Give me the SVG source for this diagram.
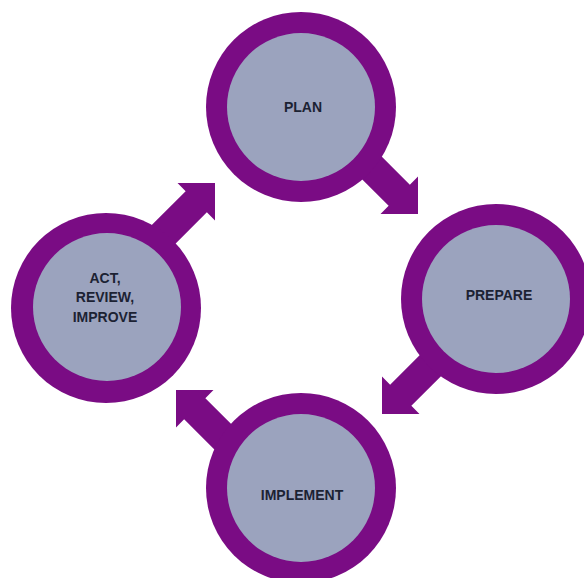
<svg xmlns="http://www.w3.org/2000/svg" xmlns:xlink="http://www.w3.org/1999/xlink" width="584" height="578" viewBox="0 0 584 578">
<style>
.ring{fill:#7a0c84}
.core{fill:#9ba3be}
.arrow{fill:#7a0c84}
.lbl{font-family:"Liberation Sans",Arial,sans-serif;font-weight:bold;font-size:14px;fill:#1c2233;text-anchor:middle}
</style>
<defs>
<polygon id="arr" points="-100,-15 -26.5,-15 -26.5,-26.5 0,0 -26.5,26.5 -26.5,15 -100,15"/>
</defs>
<rect width="584" height="578" fill="#ffffff"/>
<g id="connectors" class="arrow">
<use xlink:href="#arr" href="#arr" transform="translate(418,214) rotate(45)"/>
<use xlink:href="#arr" href="#arr" transform="translate(382,414) rotate(135)"/>
<use xlink:href="#arr" href="#arr" transform="translate(176,390) rotate(225)"/>
<use xlink:href="#arr" href="#arr" transform="translate(215,183) rotate(-45)"/>
</g>
<g id="plan">
<circle class="ring" cx="301" cy="107" r="95"/>
<circle class="core" cx="301" cy="107" r="74"/>
<text class="lbl" x="303" y="112">PLAN</text>
</g>
<g id="prepare">
<circle class="ring" cx="496" cy="299" r="95"/>
<circle class="core" cx="496" cy="299" r="74"/>
<text class="lbl" x="499" y="300">PREPARE</text>
</g>
<g id="implement">
<circle class="ring" cx="301" cy="488" r="95"/>
<circle class="core" cx="301" cy="488" r="74"/>
<text class="lbl" x="302" y="500">IMPLEMENT</text>
</g>
<g id="act">
<circle class="ring" cx="106" cy="308" r="95"/>
<circle class="core" cx="107" cy="307" r="74"/>
<text class="lbl" x="105" y="283">ACT,</text>
<text class="lbl" x="105" y="302">REVIEW,</text>
<text class="lbl" x="105" y="322">IMPROVE</text>
</g>
</svg>
